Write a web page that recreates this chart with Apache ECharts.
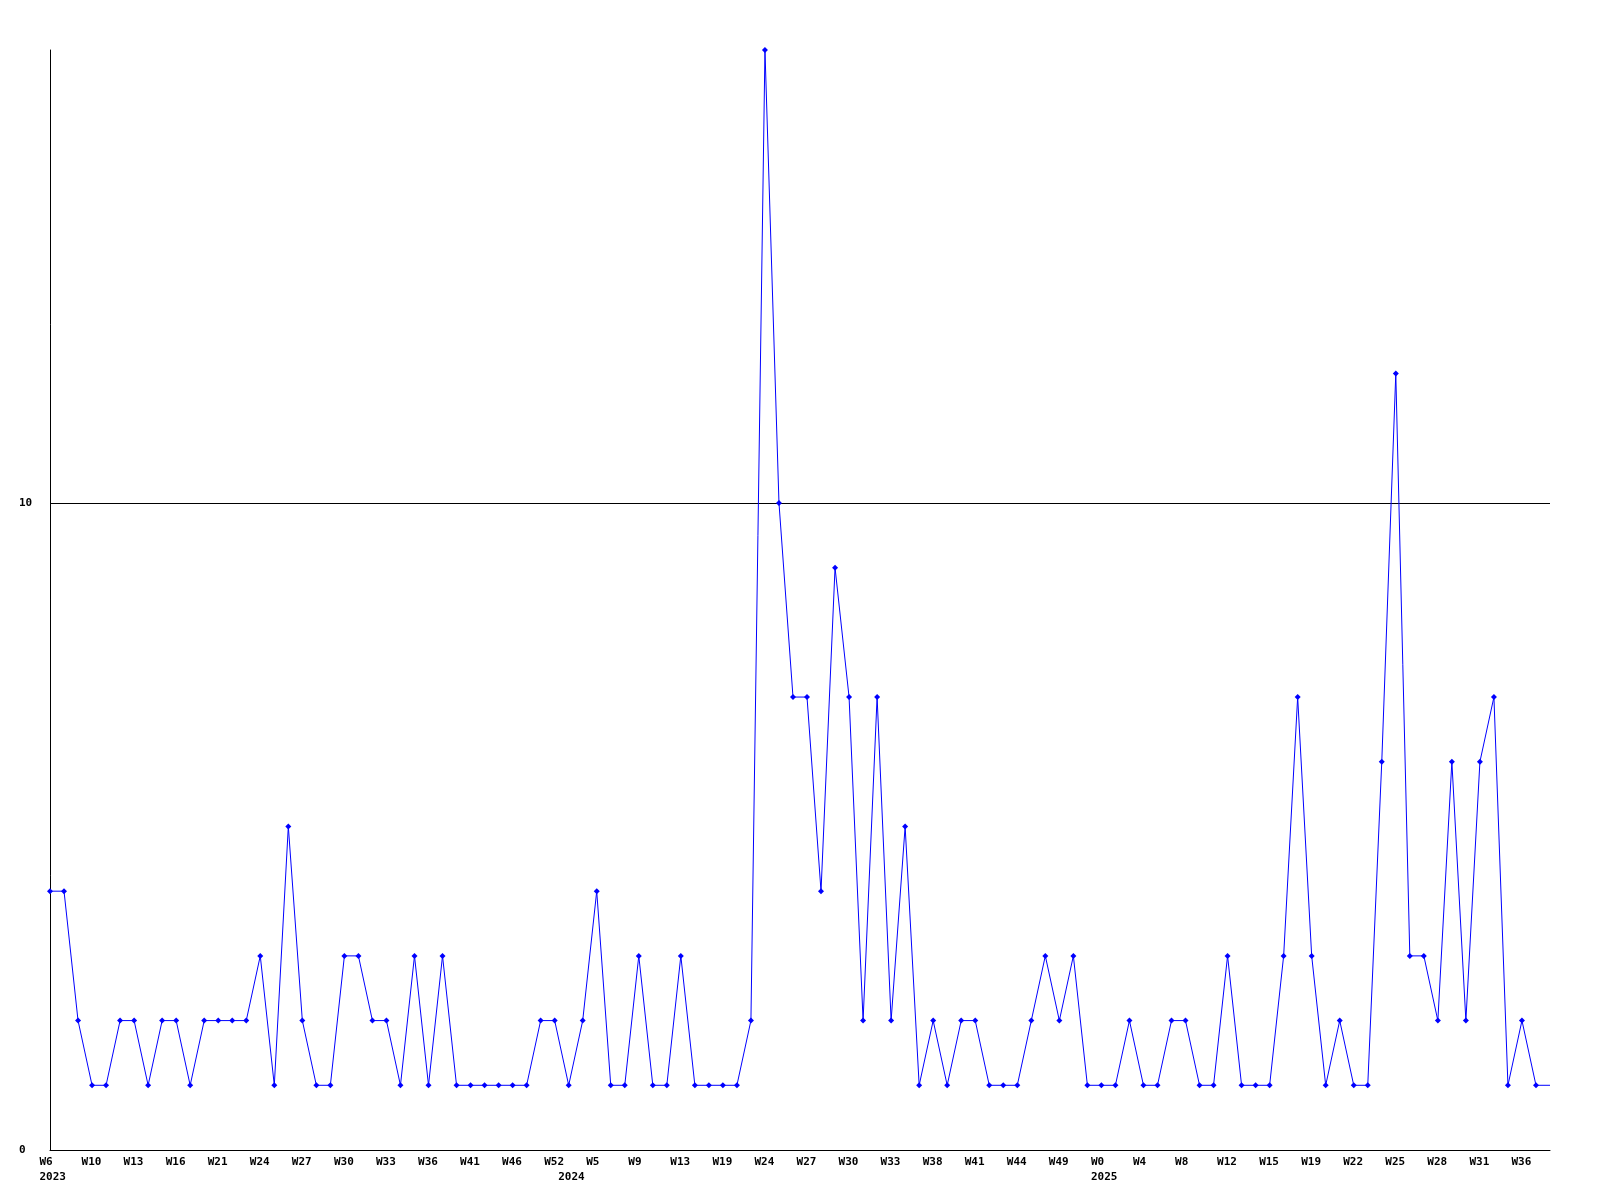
<!DOCTYPE html>
<html>
<head>
<meta charset="utf-8">
<script src="https://cdn.jsdelivr.net/npm/echarts@6/dist/echarts.min.js"></script>
<style>
html,body{margin:0;padding:0;background:#fff;}
#chart{width:1600px;height:1200px;}
</style>
</head>
<body>
<div id="chart"></div>
<script>
// Weekly counts (one value per plotted point, left to right)
const values = [
  4,4,2,1,1,2,2,1,2,2,1,2,2,2,2,3,1,5,2,1,1,3,3,2,2,1,3,1,3,1,1,1,1,1,1,
  2,2,1,2,4,1,1,3,1,1,3,1,1,1,1,2,17,10,7,7,4,9,7,2,7,2,5,1,2,1,2,2,1,1,1,
  2,3,2,3,1,1,1,2,1,1,2,2,1,1,3,1,1,1,3,7,3,1,2,1,1,6,12,3,3,2,6,2,6,7,1,2,1,1
];
// Tick labels shown on every third point
const tickLabels = [
  'W6','W10','W13','W16','W21','W24','W27','W30','W33','W36','W41','W46','W52',
  'W5','W9','W13','W19','W24','W27','W30','W33','W38','W41','W44','W49',
  'W0','W4','W8','W12','W15','W19','W22','W25','W28','W31','W36'
];
const tickStep = 3;
// Year labels and the point index where each year starts
const yearNames = ['2023','2024','2025'];
const yearIndex = [0, 37, 75];
const yTicks = [0, 10];

const categories = values.map((v, i) => String(i));

const font = {fontFamily: '"DejaVu Sans Mono", monospace', fontWeight: 'bold', fontSize: 11, color: '#000'};

const chart = echarts.init(document.getElementById('chart'), null, {renderer: 'canvas'});
chart.setOption({
  animation: false,
  backgroundColor: '#ffffff',
  grid: {left: 50, right: 50, top: 50, bottom: 50, containLabel: false},
  xAxis: {
    type: 'category',
    data: categories,
    boundaryGap: false,
    axisLine: {show: true, lineStyle: {color: '#000', width: 1}},
    axisTick: {show: false},
    splitLine: {show: false},
    axisLabel: {
      interval: 0,
      margin: 5,
      align: 'center',
      verticalAlign: 'top',
      hideOverlap: false,
      formatter: function (val, idx) {
        const i = Number(val);
        const w = (i % tickStep === 0) ? tickLabels[i / tickStep] : null;
        const yi = yearIndex.indexOf(i);
        const y = yi >= 0 ? yearNames[yi] : null;
        if (!w && !y) return '';
        return '{a|' + (w || ' ') + '}' + (y ? '\n{a|' + y + '}' : '');
      },
      rich: {
        a: Object.assign({width: 21, align: 'left', lineHeight: 15}, font)
      }
    }
  },
  yAxis: {
    type: 'value',
    min: 0,
    max: 17,
    interval: 10,
    axisLine: {show: true, lineStyle: {color: '#000', width: 1}},
    axisTick: {show: false},
    axisLabel: Object.assign({
      margin: 31,
      align: 'left',
      showMaxLabel: false,
      formatter: function (v) { return yTicks.indexOf(v) >= 0 ? String(v) : ''; }
    }, font),
    splitLine: {
      show: true,
      lineStyle: {color: ['#000000', '#000000', 'rgba(0,0,0,0)'], width: 1}
    }
  },
  series: [{
    type: 'line',
    data: values.map((v, i) => i === values.length - 1 ? {value: v, symbol: 'none'} : v),
    showAllSymbol: true,
    symbol: 'diamond',
    symbolSize: 6,
    itemStyle: {color: '#0000ff'},
    lineStyle: {color: '#0000ff', width: 1},
    emphasis: {disabled: true}
  }]
});
</script>
</body>
</html>
